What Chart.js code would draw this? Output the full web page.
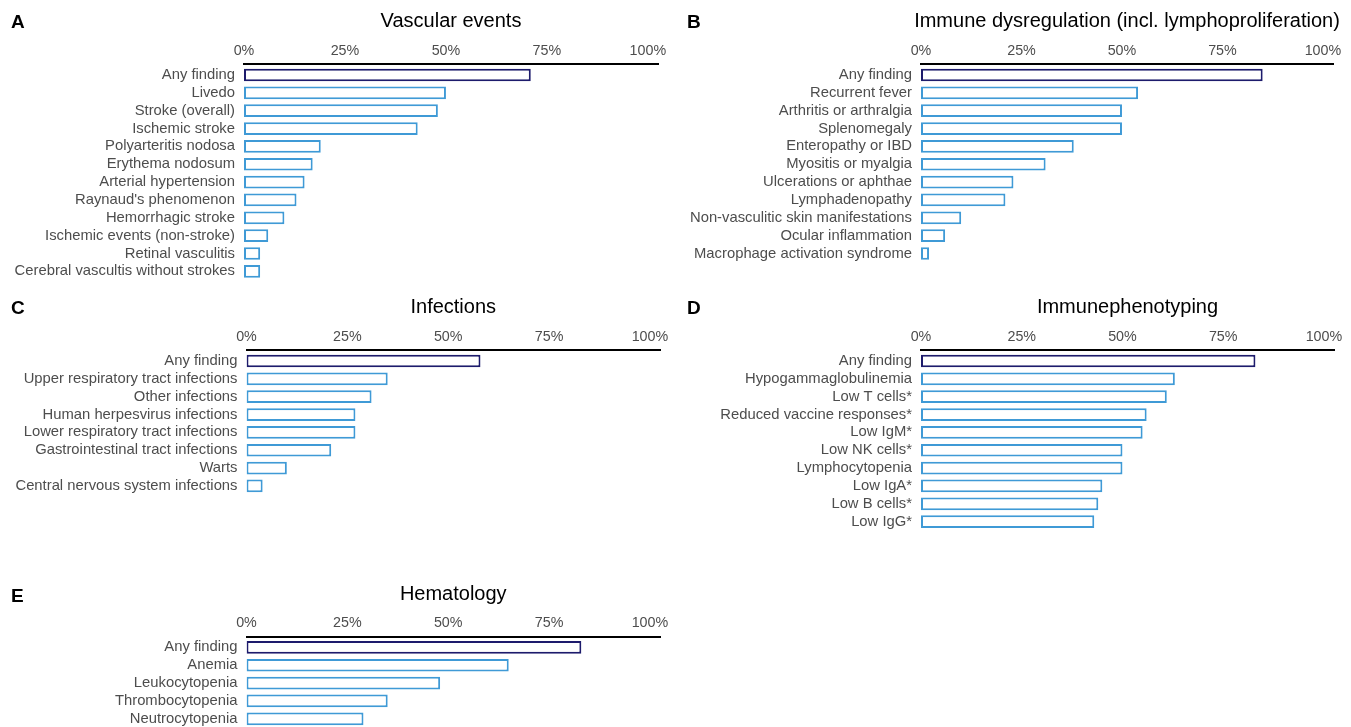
<!DOCTYPE html>
<html>
<head>
<meta charset="utf-8">
<script src="https://cdn.jsdelivr.net/npm/chart.js@4.4.1/dist/chart.umd.min.js"></script>
<style>
  html, body { margin: 0; padding: 0; background: #ffffff; }
  #fig { position: relative; width: 1351px; height: 727px; overflow: hidden; background: #ffffff; }
  #fig canvas { position: absolute; }
</style>
</head>
<body>
<div id="fig"></div>
<script>
// ---- data -------------------------------------------------------------
const panelLetters = ['A', 'B', 'C', 'D', 'E'];
const panelTitles = [
  'Vascular events',
  'Immune dysregulation (incl. lymphoproliferation)',
  'Infections',
  'Immunephenotyping',
  'Hematology'
];

const vascularLabels = [
  'Any finding', 'Livedo', 'Stroke (overall)', 'Ischemic stroke', 'Polyarteritis nodosa',
  'Erythema nodosum', 'Arterial hypertension', "Raynaud's phenomenon", 'Hemorrhagic stroke',
  'Ischemic events (non-stroke)', 'Retinal vasculitis', 'Cerebral vascultis without strokes'
];
const vascularValues = [71, 50, 48, 43, 19, 17, 15, 13, 10, 6, 4, 4];

const immuneLabels = [
  'Any finding', 'Recurrent fever', 'Arthritis or arthralgia', 'Splenomegaly', 'Enteropathy or IBD',
  'Myositis or myalgia', 'Ulcerations or aphthae', 'Lymphadenopathy',
  'Non-vasculitic skin manifestations', 'Ocular inflammation', 'Macrophage activation syndrome'
];
const immuneValues = [85, 54, 50, 50, 38, 31, 23, 21, 10, 6, 2];

const infectionLabels = [
  'Any finding', 'Upper respiratory tract infections', 'Other infections',
  'Human herpesvirus infections', 'Lower respiratory tract infections',
  'Gastrointestinal tract infections', 'Warts', 'Central nervous system infections'
];
const infectionValues = [58, 35, 31, 27, 27, 21, 10, 4];

const phenotypeLabels = [
  'Any finding', 'Hypogammaglobulinemia', 'Low T cells*', 'Reduced vaccine responses*', 'Low IgM*',
  'Low NK cells*', 'Lymphocytopenia', 'Low IgA*', 'Low B cells*', 'Low IgG*'
];
const phenotypeValues = [83, 63, 61, 56, 55, 50, 50, 45, 44, 43];

const hematologyLabels = ['Any finding', 'Anemia', 'Leukocytopenia', 'Thrombocytopenia', 'Neutrocytopenia'];
const hematologyValues = [83, 65, 48, 35, 29];

const xTickValues = [0, 25, 50, 75, 100];

// ---- styling / layout ------------------------------------------------
const NAVY = '#1d1b6c';
const BLUE = '#3f9ad6';
const GREY = '#4d4d4d';
const FONT = '"Liberation Sans", Arial, Helvetica, sans-serif';
const ROW = 17.85;          // vertical pitch of one bar row
const BAR_SHARE = 0.71;     // bar thickness as a share of the row pitch
const Y_EXPAND = 0.6;       // space (in rows) between the axis line and the first bar centre
const X_MAX = 102.5;        // axis runs slightly past 100%
const TITLE_GAP = 42.5;     // title centre above the axis line

// canvas box (x, y, w, h), plot left/right edge and axis line y in page pixels
const frames = [
  { x: 0,   y: 0,   w: 676, h: 288, left: 244,   right: 658,  axis: 64.3,  letterY: 23 },
  { x: 676, y: 0,   w: 675, h: 288, left: 921,   right: 1333, axis: 64.3,  letterY: 23 },
  { x: 0,   y: 288, w: 676, h: 287, left: 246.5, right: 660,  axis: 350.3, letterY: 20.5 },
  { x: 676, y: 288, w: 675, h: 287, left: 921,   right: 1334, axis: 350.3, letterY: 20.5 },
  { x: 0,   y: 575, w: 676, h: 176, left: 246.5, right: 660,  axis: 636.7, letterY: 21.5 }
];

const panelData = [
  [vascularLabels, vascularValues],
  [immuneLabels, immuneValues],
  [infectionLabels, infectionValues],
  [phenotypeLabels, phenotypeValues],
  [hematologyLabels, hematologyValues]
];

// Draws the panel letter and the centred panel heading.
const headingPlugin = {
  id: 'panelHeading',
  afterDraw(chart, args, opts) {
    const { ctx, chartArea } = chart;
    ctx.save();
    ctx.fillStyle = '#000000';
    ctx.textBaseline = 'middle';
    ctx.textAlign = 'left';
    ctx.font = 'bold 19px ' + FONT;
    ctx.fillText(opts.letter, 11, opts.letterY);
    ctx.textAlign = 'center';
    ctx.font = '20px ' + FONT;
    ctx.fillText(opts.title, (chartArea.left + chartArea.right) / 2, chartArea.top - TITLE_GAP);
    ctx.restore();
  }
};

const fig = document.getElementById('fig');

panelData.forEach(([labels, values], i) => {
  const f = frames[i];
  const n = labels.length;
  const canvas = document.createElement('canvas');
  canvas.width = f.w;
  canvas.height = f.h;
  canvas.style.left = f.x + 'px';
  canvas.style.top = f.y + 'px';
  canvas.style.width = f.w + 'px';
  canvas.style.height = f.h + 'px';
  fig.appendChild(canvas);

  const areaLeft = f.left - f.x;
  const areaRight = f.right - f.x;
  const areaTop = f.axis - f.y;
  const areaBottom = areaTop + (n - 1 + 2 * Y_EXPAND) * ROW;

  new Chart(canvas, {
    type: 'bar',
    data: {
      labels: labels,
      datasets: [{
        data: values,
        backgroundColor: '#ffffff',
        borderColor: values.map((v, k) => (k === 0 ? NAVY : BLUE)),
        borderWidth: 2,
        borderSkipped: false,
        barPercentage: BAR_SHARE,
        categoryPercentage: 1
      }]
    },
    options: {
      indexAxis: 'y',
      responsive: false,
      animation: false,
      devicePixelRatio: 1,
      layout: {
        padding: { left: 0, top: 0, right: f.w - areaRight, bottom: f.h - areaBottom }
      },
      plugins: {
        legend: { display: false },
        tooltip: { enabled: false },
        panelHeading: { letter: panelLetters[i], title: panelTitles[i], letterY: f.letterY }
      },
      scales: {
        x: {
          type: 'linear',
          position: 'top',
          min: 0,
          max: X_MAX,
          afterFit: (s) => {
            s.height = areaTop;
            s.paddingLeft = 0;
            s.paddingRight = 0;
          },
          afterBuildTicks: (s) => { s.ticks = xTickValues.map((v) => ({ value: v })); },
          ticks: {
            callback: (v) => v + '%',
            color: GREY,
            font: { family: FONT, size: 14.3 },
            padding: 5,
            maxRotation: 0,
            autoSkip: false
          },
          grid: { display: false, drawTicks: false },
          border: { display: true, color: '#000000', width: 2 }
        },
        y: {
          // widen the category range a little so the first bar sits 0.6 rows below the axis
          afterBuildTicks: (s) => {
            s._startValue = -Y_EXPAND;
            s._valueRange = n - 1 + 2 * Y_EXPAND;
          },
          afterFit: (s) => {
            s.width = areaLeft;
            s.paddingTop = 0;
            s.paddingBottom = 0;
          },
          ticks: {
            color: GREY,
            font: { family: FONT, size: 14.8 },
            padding: 9,
            autoSkip: false
          },
          grid: { display: false, drawTicks: false },
          border: { display: false }
        }
      }
    },
    plugins: [headingPlugin]
  });
});
</script>
</body>
</html>
